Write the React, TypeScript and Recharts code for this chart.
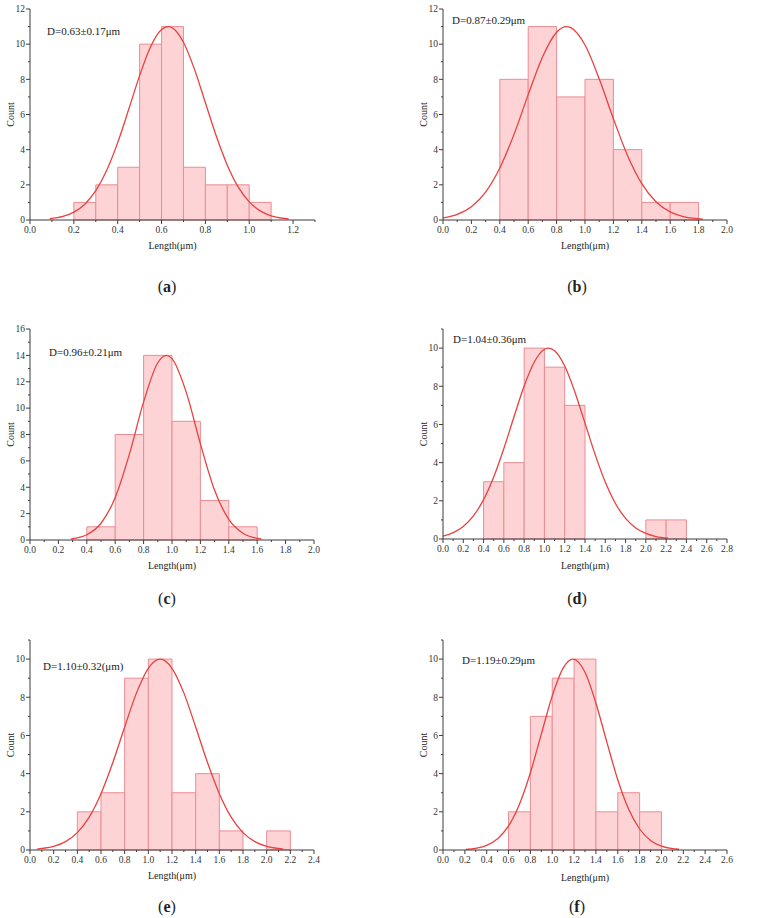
import React from 'react';
import { ComposedChart, Line, XAxis, YAxis, ReferenceArea } from 'recharts';

// histogram bins (start of each bin) and counts, one set per panel
const binStartA = [0.2, 0.3, 0.4, 0.5, 0.6, 0.7, 0.8, 0.9, 1.0];
const countsA = [1, 2, 3, 10, 11, 3, 2, 2, 1];
const binStartB = [0.4, 0.6, 0.8, 1.0, 1.2, 1.4, 1.6];
const countsB = [8, 11, 7, 8, 4, 1, 1];
const binStartC = [0.4, 0.6, 0.8, 1.0, 1.2, 1.4];
const countsC = [1, 8, 14, 9, 3, 1];
const binStartD = [0.4, 0.6, 0.8, 1.0, 1.2, 2.0, 2.2];
const countsD = [3, 4, 10, 9, 7, 1, 1];
const binStartE = [0.4, 0.6, 0.8, 1.0, 1.2, 1.4, 1.6, 2.0];
const countsE = [2, 3, 9, 10, 3, 4, 1, 1];
const binStartF = [0.6, 0.8, 1.0, 1.2, 1.4, 1.6, 1.8];
const countsF = [2, 7, 9, 10, 2, 3, 2];

// fitted curves
const curveXA = [0.09, 0.15, 0.2, 0.25, 0.3, 0.35, 0.4, 0.45, 0.5, 0.55, 0.6, 0.63, 0.65, 0.7, 0.75, 0.8, 0.85, 0.9, 0.95, 1.0, 1.05, 1.1, 1.15, 1.18];
const curveYA = [0.07, 0.2, 0.45, 0.9, 1.67, 2.83, 4.4, 6.28, 8.21, 9.85, 10.83, 11, 10.92, 10.11, 8.58, 6.67, 4.76, 3.12, 1.87, 1.03, 0.52, 0.24, 0.1, 0.06];
const curveXB = [0, 0.1, 0.2, 0.3, 0.4, 0.5, 0.6, 0.7, 0.8, 0.87, 0.9, 1.0, 1.1, 1.2, 1.3, 1.4, 1.5, 1.6, 1.7, 1.83];
const curveYB = [0.12, 0.32, 0.76, 1.59, 2.96, 4.87, 7.13, 9.26, 10.68, 11, 10.94, 9.95, 8.03, 5.76, 3.66, 2.07, 1.04, 0.46, 0.18, 0.05];
const curveXC = [0.29, 0.4, 0.5, 0.6, 0.7, 0.8, 0.9, 0.96, 1.0, 1.1, 1.2, 1.3, 1.4, 1.5, 1.6, 1.63];
const curveYC = [0.09, 0.4, 1.27, 3.22, 6.51, 10.47, 13.44, 14, 13.75, 11.21, 7.29, 3.77, 1.56, 0.51, 0.13, 0.09];
const curveXD = [0, 0.1, 0.2, 0.3, 0.4, 0.5, 0.6, 0.7, 0.8, 0.9, 1.0, 1.04, 1.1, 1.2, 1.3, 1.4, 1.5, 1.6, 1.7, 1.8, 1.9, 2.0, 2.1, 2.22];
const curveYD = [0.15, 0.33, 0.66, 1.21, 2.06, 3.25, 4.74, 6.4, 8.01, 9.27, 9.94, 10, 9.86, 9.06, 7.7, 6.07, 4.42, 2.98, 1.86, 1.08, 0.58, 0.29, 0.13, 0.05];
const curveXE = [0.06, 0.1, 0.2, 0.3, 0.4, 0.5, 0.6, 0.7, 0.8, 0.9, 1.0, 1.1, 1.2, 1.3, 1.4, 1.5, 1.6, 1.7, 1.8, 1.9, 2.0, 2.1, 2.14];
const curveYE = [0.05, 0.08, 0.19, 0.44, 0.91, 1.72, 2.95, 4.58, 6.44, 8.23, 9.52, 10, 9.52, 8.23, 6.44, 4.58, 2.95, 1.72, 0.91, 0.44, 0.19, 0.08, 0.05];
const curveXF = [0.21, 0.3, 0.4, 0.5, 0.6, 0.7, 0.8, 0.9, 1.0, 1.1, 1.19, 1.3, 1.4, 1.5, 1.6, 1.7, 1.8, 1.9, 2.0, 2.1, 2.16];
const curveYF = [0.03, 0.09, 0.24, 0.59, 1.26, 2.4, 4.05, 6.07, 8.07, 9.53, 10, 9.31, 7.69, 5.65, 3.68, 2.13, 1.1, 0.5, 0.2, 0.07, 0.04];

// tick labels
const xMajorsA = [0, 0.2, 0.4, 0.6, 0.8, 1.0, 1.2];
const xMajorsB = [0, 0.2, 0.4, 0.6, 0.8, 1.0, 1.2, 1.4, 1.6, 1.8, 2.0];
const xMajorsC = [0, 0.2, 0.4, 0.6, 0.8, 1.0, 1.2, 1.4, 1.6, 1.8, 2.0];
const xMajorsD = [0, 0.2, 0.4, 0.6, 0.8, 1.0, 1.2, 1.4, 1.6, 1.8, 2.0, 2.2, 2.4, 2.6, 2.8];
const xMajorsE = [0, 0.2, 0.4, 0.6, 0.8, 1.0, 1.2, 1.4, 1.6, 1.8, 2.0, 2.2, 2.4];
const xMajorsF = [0, 0.2, 0.4, 0.6, 0.8, 1.0, 1.2, 1.4, 1.6, 1.8, 2.0, 2.2, 2.4, 2.6];
const yMajors12 = [0, 2, 4, 6, 8, 10, 12];
const yMajors16 = [0, 2, 4, 6, 8, 10, 12, 14, 16];
const yMajors10 = [0, 2, 4, 6, 8, 10];

const notes = ['D=0.63±0.17μm', 'D=0.87±0.29μm', 'D=0.96±0.21μm', 'D=1.04±0.36μm', 'D=1.10±0.32(μm)', 'D=1.19±0.29μm'];
const letters = ['a', 'b', 'c', 'd', 'e', 'f'];

const FONT = '"Liberation Serif", "Times New Roman", serif';
const AXIS = '#3d3d3d';
const BAR_FILL = '#fdd3d5';
const BAR_STROKE = '#eb8d93';
const CURVE = '#e8413f';

const panels = [
  { left: 30, top: 9, right: 315, bottom: 220, chartLeft: 0, chartWidth: 384, xMax: 1.3, yMax: 12, xMajors: xMajorsA, yMajors: yMajors12, binStarts: binStartA, binWidth: 0.1, counts: countsA, curveX: curveXA, curveY: curveYA, note: [47, 31], countX: 10, titleY: 245, caption: [167, 286] },
  { left: 443, top: 9, right: 727, bottom: 220, chartLeft: 384, chartWidth: 383, xMax: 2.0, yMax: 12, xMajors: xMajorsB, yMajors: yMajors12, binStarts: binStartB, binWidth: 0.2, counts: countsB, curveX: curveXB, curveY: curveYB, note: [452, 20], countX: 423, titleY: 245, caption: [577, 286] },
  { left: 30, top: 329, right: 314, bottom: 540, chartLeft: 0, chartWidth: 384, xMax: 2.0, yMax: 16, xMajors: xMajorsC, yMajors: yMajors16, binStarts: binStartC, binWidth: 0.2, counts: countsC, curveX: curveXC, curveY: curveYC, note: [49, 352], countX: 10, titleY: 565, caption: [167, 598] },
  { left: 443, top: 329, right: 727, bottom: 539, chartLeft: 384, chartWidth: 383, xMax: 2.8, yMax: 11, xMajors: xMajorsD, yMajors: yMajors10, binStarts: binStartD, binWidth: 0.2, counts: countsD, curveX: curveXD, curveY: curveYD, note: [453, 339], countX: 423, titleY: 565, caption: [577, 598] },
  { left: 30, top: 640, right: 314, bottom: 850, chartLeft: 0, chartWidth: 384, xMax: 2.4, yMax: 11, xMajors: xMajorsE, yMajors: yMajors10, binStarts: binStartE, binWidth: 0.2, counts: countsE, curveX: curveXE, curveY: curveYE, note: [43, 666], countX: 10, titleY: 875, caption: [167, 906] },
  { left: 443, top: 640, right: 727, bottom: 850, chartLeft: 384, chartWidth: 383, xMax: 2.6, yMax: 11, xMajors: xMajorsF, yMajors: yMajors10, binStarts: binStartF, binWidth: 0.2, counts: countsF, curveX: curveXF, curveY: curveYF, note: [462, 660], countX: 423, titleY: 877, caption: [577, 906] },
];

const isIn = (list: number[], v: number) => list.some((m) => Math.abs(m - v) < 1e-6);

// majors plus a minor tick halfway between them, up to the end of the axis
function withMinors(majors: number[], max: number) {
  const step = (majors[1] - majors[0]) / 2;
  const n = Math.round(max / step);
  return Array.from({ length: n + 1 }, (_, i) => +(i * step).toFixed(3));
}

function XTick({ x, y, payload, majors }: any) {
  const major = isIn(majors, payload.value);
  return (
    <g>
      <line x1={x} y1={y} x2={x} y2={y + (major ? 4 : 2)} stroke={AXIS} />
      {major && (
        <text x={x} y={y + 12.5} textAnchor="middle" fontSize={9.5} fontFamily={FONT} fill="#333">
          {payload.value.toFixed(1)}
        </text>
      )}
    </g>
  );
}

function YTick({ x, y, payload, majors }: any) {
  const major = isIn(majors, payload.value);
  return (
    <g>
      <line x1={x} y1={y} x2={x - (major ? 4 : 2)} y2={y} stroke={AXIS} />
      {major && (
        <text x={x - 5} y={y + 3.3} textAnchor="end" fontSize={9.5} fontFamily={FONT} fill="#333">
          {payload.value}
        </text>
      )}
    </g>
  );
}

function Histogram({ p }: any) {
  const mTop = 6;
  const xAxisH = 24;
  const height = p.bottom - p.top + mTop + xAxisH;
  const bins = p.binStarts.map((s: number, i: number) => ({ lo: s, hi: +(s + p.binWidth).toFixed(2), count: p.counts[i] }));
  const curve = p.curveX.map((x: number, i: number) => ({ x, y: p.curveY[i] }));
  const xTicks = withMinors(p.xMajors, p.xMax);
  const yTicks = withMinors(p.yMajors, p.yMax);
  return (
    <div style={{ position: 'absolute', left: p.chartLeft, top: p.top - mTop }}>
      <ComposedChart
        width={p.chartWidth}
        height={height}
        margin={{ top: mTop, right: p.chartLeft + p.chartWidth - p.right, bottom: 0, left: 0 }}
      >
        <XAxis
          type="number"
          dataKey="x"
          domain={[0, p.xMax]}
          ticks={xTicks}
          interval={0}
          tickSize={0}
          tickMargin={0}
          height={xAxisH}
          axisLine={{ stroke: AXIS }}
          tick={(props: any) => <XTick {...props} majors={p.xMajors} />}
          allowDataOverflow
        />
        <YAxis
          type="number"
          domain={[0, p.yMax]}
          ticks={yTicks}
          interval={0}
          tickSize={0}
          tickMargin={0}
          width={p.left - p.chartLeft}
          axisLine={{ stroke: AXIS }}
          tick={(props: any) => <YTick {...props} majors={p.yMajors} />}
          allowDataOverflow
        />
        {bins.map((b: any) => (
          <ReferenceArea
            key={b.lo}
            x1={b.lo}
            x2={b.hi}
            y1={0}
            y2={b.count}
            fill={BAR_FILL}
            fillOpacity={1}
            stroke={BAR_STROKE}
            strokeWidth={1}
            ifOverflow="visible"
          />
        ))}
        <Line
          data={curve}
          dataKey="y"
          type="monotone"
          dot={false}
          stroke={CURVE}
          strokeWidth={1.3}
          isAnimationActive={false}
        />
      </ComposedChart>
    </div>
  );
}

export default function App() {
  return (
    <div style={{ position: 'absolute', left: 0, top: 0, width: 767, height: 918, background: '#fff' }}>
      {panels.map((p, i) => (
        <Histogram key={i} p={p} />
      ))}
      <svg width={767} height={918} style={{ position: 'absolute', left: 0, top: 0, pointerEvents: 'none' }}>
        {panels.map((p, i) => {
          const midX = (p.left + p.right) / 2;
          const midY = (p.top + p.bottom) / 2;
          return (
            <g key={i} fontFamily={FONT} fill="#222">
              <text x={p.note[0]} y={p.note[1]} fontSize={11} dominantBaseline="central">
                {notes[i]}
              </text>
              <text x={p.countX} y={midY} fontSize={10} textAnchor="middle" dominantBaseline="central" transform={`rotate(-90 ${p.countX} ${midY})`}>
                Count
              </text>
              <text x={midX} y={p.titleY} fontSize={10} textAnchor="middle" dominantBaseline="central">
                Length(μm)
              </text>
              <text x={p.caption[0]} y={p.caption[1]} fontSize={16} textAnchor="middle" dominantBaseline="central">
                <tspan>(</tspan>
                <tspan fontWeight="bold">{letters[i]}</tspan>
                <tspan>)</tspan>
              </text>
            </g>
          );
        })}
      </svg>
    </div>
  );
}
